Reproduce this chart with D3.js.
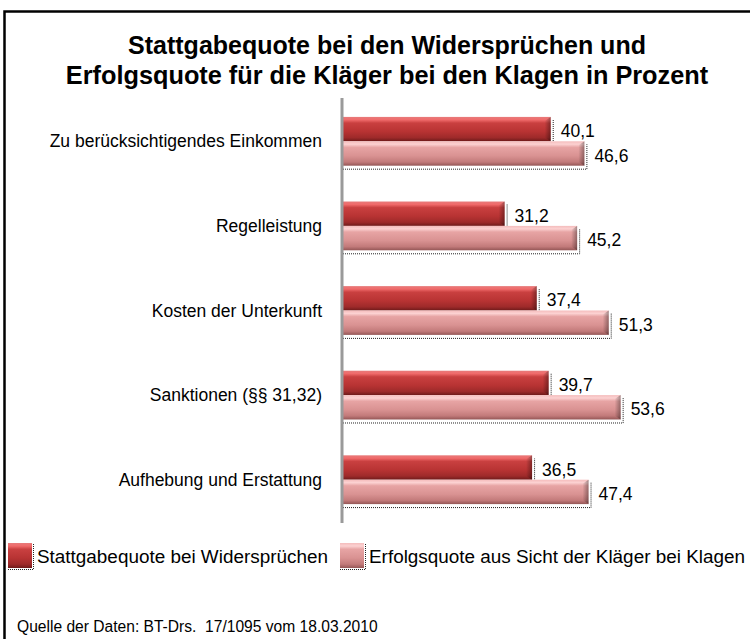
<!DOCTYPE html>
<html><head><meta charset="utf-8">
<script src="https://cdn.jsdelivr.net/npm/d3@7"></script>
<style>
html,body{margin:0;padding:0;background:#fff;}
svg{display:block;font-family:"Liberation Sans",Arial,sans-serif;}
</style></head>
<body>
<svg id="c" width="755" height="639"></svg>
<script>
const categories = ["Zu berücksichtigendes Einkommen","Regelleistung","Kosten der Unterkunft","Sanktionen (§§ 31,32)","Aufhebung und Erstattung"];
const seriesNames = ["Stattgabequote bei Widersprüchen","Erfolgsquote aus Sicht der Kläger bei Klagen"];
const widerspruch = [40.1,31.2,37.4,39.7,36.5];
const klagen = [46.6,45.2,51.3,53.6,47.4];
const titleLines = ["Stattgabequote bei den Widersprüchen und","Erfolgsquote für die Kläger bei den Klagen in Prozent"];
const source = "Quelle der Daten: BT-Drs.\u00a0 17/1095 vom 18.03.2010";

const svg = d3.select("#c");
const defs = svg.append("defs");
function vgrad(id, stops){
  const g = defs.append("linearGradient").attr("id",id).attr("x1",0).attr("y1",0).attr("x2",0).attr("y2",1);
  stops.forEach(s=>g.append("stop").attr("offset",s[0]).attr("stop-color",s[1]));
}
vgrad("gDark",[[0,"#e77a7a"],[0.12,"#f06a6a"],[0.25,"#c94040"],[0.6,"#b83333"],[0.85,"#9e2a2a"],[1,"#6e1a1a"]]);
vgrad("gLight",[[0,"#f4bcbc"],[0.12,"#fcd2d2"],[0.25,"#e7a4a4"],[0.6,"#d99292"],[0.85,"#c27a7a"],[1,"#945656"]]);
const hg = defs.append("linearGradient").attr("id","gEnd").attr("x1",0).attr("y1",0).attr("x2",1).attr("y2",0);
hg.append("stop").attr("offset",0).attr("stop-color","#000").attr("stop-opacity",0);
hg.append("stop").attr("offset",1).attr("stop-color","#000").attr("stop-opacity",0.35);

// frame
svg.append("path").attr("d","M4.5,639V11.5H750").attr("fill","none").attr("stroke","#000").attr("stroke-width",2.5);

// title
svg.append("g").selectAll("text").data(titleLines).join("text")
  .attr("x",387).attr("y",(d,i)=>54+i*30).attr("text-anchor","middle")
  .attr("font-weight","bold").attr("font-size",(d,i)=>i===0?25:25.3).attr("fill","#000").text(d=>d);

const x = d3.scaleLinear().domain([0,60]).range([343,343+60*5.18]);
const y = d3.scaleBand().domain(categories).range([98,523]).paddingInner(0.4235).paddingOuter(0.2235);
const ys = d3.scaleBand().domain([0,1]).range([0,y.bandwidth()]);

const data = [];
categories.forEach((c,i)=>{
  data.push({c, s:0, v:widerspruch[i]});
  data.push({c, s:1, v:klagen[i]});
});

// shadows (dotted)
svg.append("g").selectAll("path").data(data).join("path")
  .attr("d",d=>{
    const y0=y(d.c)+ys(d.s), h=ys.bandwidth(), x1=x(d.v);
    return `M${x(0)},${y0+h+3.5}H${x1+2.5}V${y0+3}`;
  })
  .attr("fill","none").attr("stroke","#222").attr("stroke-width",1).attr("stroke-dasharray","1,1");

// bars
const bars = svg.append("g").selectAll("g").data(data).join("g");
bars.append("rect")
  .attr("x",x(0)).attr("y",d=>y(d.c)+ys(d.s))
  .attr("width",d=>x(d.v)-x(0)).attr("height",ys.bandwidth())
  .attr("fill",d=>d.s===0?"url(#gDark)":"url(#gLight)");
bars.append("path")
  .attr("d",d=>{
    const y0=y(d.c)+ys(d.s), h=ys.bandwidth(), x1=x(d.v);
    return `M${x1-6},${y0+4}L${x1},${y0}V${y0+h}L${x1-6},${y0+h-4}Z`;
  })
  .attr("fill","url(#gEnd)");

// value labels
svg.append("g").selectAll("text").data(data).join("text")
  .attr("x",d=>x(d.v)+10).attr("y",d=>y(d.c)+ys(d.s)+ys.bandwidth()/2+2)
  .attr("dy","0.35em").attr("font-size",17.5).attr("fill","#000")
  .text(d=>d3.format(".1f")(d.v).replace(".",","));

// category labels
svg.append("g").selectAll("text").data(categories).join("text")
  .attr("x",322).attr("y",d=>y(d)+y.bandwidth()/2).attr("dy","0.35em")
  .attr("text-anchor","end").attr("font-size",17.5).attr("fill","#000").text(d=>d);

// axis line
svg.append("line").attr("x1",342).attr("x2",342).attr("y1",98).attr("y2",523)
  .attr("stroke","#9a9a9a").attr("stroke-width",3);

// legend
const leg = svg.append("g");
const legX = [8,340];
seriesNames.forEach((n,i)=>{
  const g = leg.append("g").attr("transform",`translate(${legX[i]},543)`);
  g.append("path").attr("d","M0,26.5H25.5V0").attr("fill","none").attr("stroke","#222").attr("stroke-dasharray","1,1");
  g.append("rect").attr("width",24).attr("height",25).attr("fill",i===0?"url(#gDark)":"url(#gLight)");
  g.append("text").attr("x",29).attr("y",13).attr("dy","0.35em").attr("font-size",18.9).attr("fill","#000").text(n);
});

// source
svg.append("text").attr("x",17).attr("y",627).attr("dy","0.35em").attr("font-size",15.6).attr("fill","#000").text(source);
</script>
</body></html>
